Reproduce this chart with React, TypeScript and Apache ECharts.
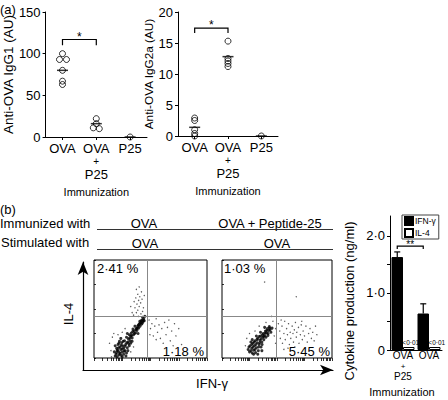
import React, { useEffect, useRef } from 'react';
import * as echarts from 'echarts';

// ---------- data ----------
const immunizationCats = ['OVA', 'OVA\n+\nP25', 'P25'];

const igg1Values = [[100, 93, 93, 80, 67, 63], [22, 16, 11, 10], [0]];
const igg1Offsets = [[0, -3, 4, 0, 0, 0], [0, 0, -3, 3], [0]];
const igg1Means = [80, 16, 0];
const igg1Sig = [0, 1, 117, 110];
const igg1Ticks = [0, 50, 100, 150];

const igg2aValues = [[2.9, 2.5, 1.0, 0.4, 0], [15.3, 12.5, 12.1, 11.7, 11.2], [0]];
const igg2aOffsets = [[0, 0, 0, 0, 0], [0, 0, 0, 0, 0], [0]];
const igg2aMeans = [1.4, 12.8, 0];
const igg2aSig = [0, 1, 17.4, 16.6];
const igg2aTicks = [0, 5, 10, 15, 20];

// flow cytometry dot plots (IFN-γ, IL-4 in log decades 0..4)
const flow1Core = [
  [0.72, 0.25], [0.78, 0.15], [0.8, 0.4], [0.85, 0.3], [0.88, 0.12], [0.9, 0.22], [0.92, 0.45], [0.95, 0.35],
  [0.97, 0.1], [1.0, 0.25], [1.02, 0.5], [1.05, 0.4], [1.05, 0.15], [1.1, 0.3], [1.12, 0.55], [1.15, 0.2],
  [1.18, 0.42], [1.2, 0.65], [0.85, 0.55], [0.9, 0.68], [0.98, 0.62], [1.08, 0.7], [1.15, 0.85], [0.75, 0.5],
  [1.25, 0.5], [1.22, 0.78], [1.28, 0.7], [0.95, 0.8], [1.0, 0.05], [0.82, 0.05],
  [1.3, 0.9], [1.35, 0.82], [1.32, 1.02], [1.4, 0.95], [1.42, 1.1], [1.47, 1.02], [1.5, 1.2], [1.52, 1.12],
  [1.55, 1.3], [1.58, 1.22], [1.6, 1.38], [1.63, 1.3], [1.66, 1.45], [1.68, 1.38], [1.7, 1.55], [1.73, 1.48],
  [1.76, 1.6], [1.78, 1.52], [1.38, 1.18], [1.45, 1.3], [1.25, 0.95], [1.62, 1.5], [1.72, 1.66], [1.8, 1.7],
  [1.56, 1.0], [1.35, 0.68],
  [0.75, 0.08], [0.8, 0.22], [0.87, 0.42], [0.93, 0.18], [0.96, 0.52], [1.0, 0.38], [1.03, 0.68], [1.07, 0.28],
  [1.1, 0.48], [1.13, 0.08], [1.16, 0.62], [1.2, 0.3], [1.23, 0.58], [0.88, 0.6], [0.82, 0.32], [1.27, 0.82],
  [1.33, 0.92], [1.37, 1.08], [1.43, 1.0], [1.48, 1.15], [1.53, 1.22], [1.57, 1.35], [1.62, 1.42], [1.67, 1.52],
  [1.71, 1.42], [1.75, 1.53], [1.3, 0.6], [1.18, 1.0],
];
const flow1Sparse = [
  [1.4, 1.75], [1.5, 1.85], [1.55, 1.95], [1.45, 2.05], [1.6, 2.1], [1.52, 2.2], [1.65, 2.25], [1.58, 2.35],
  [1.48, 2.45], [1.62, 2.5], [1.7, 2.4], [1.55, 2.6], [1.68, 2.7], [1.5, 2.8], [1.6, 2.9], [1.75, 2.05],
  [1.42, 2.3], [1.72, 1.9], [1.35, 1.85], [1.78, 2.55], [1.3, 2.1], [1.66, 1.8], [1.57, 1.7],
  [1.95, 1.55], [2.0, 1.2], [2.05, 1.4], [2.1, 0.9], [2.15, 1.3], [2.2, 1.6], [2.25, 1.05], [2.3, 1.35],
  [2.35, 0.8], [2.4, 1.2], [2.5, 1.45], [2.55, 0.95], [2.6, 1.25], [2.7, 0.7], [2.75, 1.1], [2.85, 1.4],
  [2.9, 0.9], [3.0, 1.2], [2.45, 0.6], [2.2, 0.75], [3.1, 0.55], [2.65, 1.55], [1.98, 0.95], [2.8, 0.5],
  [0.6, 0.3], [0.55, 0.6], [0.65, 0.85], [0.7, 1.0], [1.0, 1.05], [1.1, 1.2], [0.62, 0.05], [1.3, 0.25],
  [1.4, 0.45], [0.85, 0.95],
];
const flow1Gate = [1.87, 1.69];

const flow2Core = [
  [0.95, 0.35], [1.0, 0.25], [1.02, 0.5], [1.08, 0.4], [1.1, 0.2], [1.12, 0.6], [1.15, 0.32], [1.18, 0.5],
  [1.2, 0.7], [1.22, 0.22], [1.25, 0.42], [1.28, 0.62], [1.3, 0.8], [1.32, 0.3], [1.35, 0.55], [1.38, 0.72],
  [1.4, 0.9], [1.42, 0.45], [1.45, 0.65], [1.48, 0.85], [1.5, 1.0], [1.52, 0.75], [1.55, 0.92], [1.58, 1.1],
  [1.6, 0.85], [1.62, 1.02], [1.65, 1.2], [1.68, 1.0], [1.7, 1.12], [1.72, 1.28], [1.75, 1.15], [1.78, 1.05],
  [1.1, 0.75], [1.05, 0.65], [1.25, 0.9], [1.4, 1.05], [1.55, 1.25], [1.3, 0.15], [1.45, 0.3], [1.82, 1.22],
  [0.98, 0.45], [1.05, 0.3], [1.08, 0.55], [1.13, 0.45], [1.17, 0.65], [1.2, 0.35], [1.23, 0.55], [1.27, 0.75],
  [1.33, 0.45], [1.37, 0.62], [1.42, 0.78], [1.47, 0.95], [1.52, 0.88], [1.57, 1.02], [1.63, 1.12], [1.67, 0.92],
  [1.73, 1.22], [1.15, 0.15], [1.35, 0.88], [1.46, 0.55],
];
const flow2Sparse = [
  [2.05, 1.4], [2.1, 1.1], [2.12, 0.8], [2.18, 1.3], [2.2, 0.6], [2.25, 1.0], [2.28, 1.5], [2.3, 0.75],
  [2.35, 1.2], [2.38, 0.95], [2.42, 1.4], [2.45, 0.55], [2.48, 1.05], [2.5, 0.8], [2.55, 1.3], [2.58, 1.0],
  [2.6, 0.65], [2.63, 1.15], [2.67, 1.45], [2.7, 0.85], [2.72, 1.05], [2.78, 1.25], [2.8, 0.6], [2.85, 0.95],
  [2.88, 1.35], [2.92, 0.75], [2.95, 1.1], [3.0, 0.9], [3.05, 1.3], [3.1, 0.65], [3.15, 1.0], [3.2, 1.2],
  [3.25, 0.8], [3.3, 1.05], [3.35, 0.7], [3.45, 0.95], [2.4, 0.4], [2.15, 1.55], [2.65, 0.45], [2.9, 1.5],
  [3.4, 1.3], [2.25, 0.35],
  [0.85, 0.5], [0.9, 0.8], [1.0, 1.0], [1.2, 1.1], [1.35, 1.3], [1.6, 1.45], [1.9, 0.9], [1.95, 0.6],
  [1.85, 1.5], [1.8, 1.7], [1.55, 3.1], [2.7, 2.5], [1.95, 1.2],
];
const flow2Gate = [1.99, 1.71];

const flowLabels1 = ['2·41 %', '1·18 %'];
const flowLabels2 = ['1·03 %', '5·45 %'];

// cytokine bar chart
const barCats = ['OVA\n+\nP25', 'OVA'];
const ifnValues = [1.63, 0.64];
const ifnErrors = [0.09, 0.17];
const il4Values = [0.01, 0.01];
const il4Label = '<0·01';
const barSig = [0, 1, 1.82, 1.77];
const barTicks = [0, 0.5, 1, 1.5, 2];
const barLabelTicks = [0, 1, 2];

// ---------- helpers ----------
const FONT = "'Liberation Sans', Arial, Helvetica, sans-serif";
const BAR_W = 11.5;

const logTicks: number[] = [];
for (let d = 0; d < 4; d++) for (let m = 1; m <= 9; m++) logTicks.push(d + Math.log10(m));
logTicks.push(4);

function pointsData(values: number[][], offsets: number[][]) {
  const out: any[] = [];
  values.forEach((g, ci) => g.forEach((v, i) => out.push({ value: [ci, v], symbolOffset: [offsets[ci][i] || 0, 0] })));
  return out;
}

// multi-line category label with a smaller "+"
function stackedLabel(v: string) {
  return v.split('\n').map((s) => (s === '+' ? `{p|${s}}` : `{a|${s}}`)).join('\n');
}

function bracketSeries(xi: number, sig: number[], star: string, dx: number, fs: number) {
  return {
    type: 'custom',
    xAxisIndex: xi,
    yAxisIndex: xi,
    silent: true,
    data: [sig],
    renderItem: (_p: any, api: any) => {
      const a = api.coord([api.value(0), api.value(2)]);
      const b = api.coord([api.value(1), api.value(2)]);
      const a0 = api.coord([api.value(0), api.value(3)]);
      const b0 = api.coord([api.value(1), api.value(3)]);
      return {
        type: 'group',
        children: [
          {
            type: 'polyline',
            shape: { points: [[a0[0] + dx, a0[1]], [a[0] + dx, a[1]], [b[0] + dx, b[1]], [b0[0] + dx, b0[1]]] },
            style: { stroke: '#000', lineWidth: 1.2, fill: null },
          },
          {
            type: 'text',
            style: { text: star, x: (a[0] + b[0]) / 2 + dx, y: a[1] + 3, align: 'center', verticalAlign: 'bottom', fontSize: fs, fill: '#000', fontFamily: FONT },
          },
        ],
      };
    },
  };
}

const axisBlack = { lineStyle: { color: '#000', width: 1 } };

function topXAxis(gi: number) {
  return {
    type: 'category', gridIndex: gi, data: immunizationCats,
    axisLine: { show: true, ...axisBlack },
    axisTick: { show: true, alignWithLabel: true, length: 3, lineStyle: { color: '#000' } },
    axisLabel: {
      color: '#000', fontFamily: FONT, margin: 4, interval: 0,
      formatter: stackedLabel,
      rich: {
        a: { fontSize: 13, lineHeight: 14, fontFamily: FONT, color: '#000' },
        p: { fontSize: 10, lineHeight: 12, fontFamily: FONT, color: '#000' },
      },
    },
    name: 'Immunization', nameLocation: 'middle', nameGap: 49,
    nameTextStyle: { color: '#000', fontSize: 11, fontFamily: FONT },
    splitLine: { show: false },
  };
}

function topYAxis(gi: number, max: number, ticks: number[], name: string, nameSize: number, gap: number) {
  return {
    type: 'value', gridIndex: gi, min: 0, max,
    axisLine: { show: true, ...axisBlack },
    axisTick: { show: true, length: 3, lineStyle: { color: '#000' }, customValues: ticks },
    axisLabel: { color: '#000', fontSize: 13, fontFamily: FONT, margin: 5, customValues: ticks },
    splitLine: { show: false },
    name, nameLocation: 'middle', nameGap: gap,
    nameTextStyle: { color: '#000', fontSize: nameSize, fontFamily: FONT },
  };
}

function flowXAxis(gi: number) {
  return {
    type: 'value', gridIndex: gi, min: 0, max: 4,
    axisLine: { show: false },
    axisTick: { show: true, length: 3, lineStyle: { color: '#000', width: 0.8 }, customValues: logTicks },
    axisLabel: { show: false },
    splitLine: { show: false },
  };
}
function flowYAxis(gi: number) {
  return {
    type: 'value', gridIndex: gi, min: 0, max: 4,
    axisLine: { show: false },
    axisTick: { show: true, inside: true, length: 2, lineStyle: { color: '#000', width: 0.8 }, customValues: [0, 1, 2, 3, 4] },
    axisLabel: { show: false },
    splitLine: { show: false },
  };
}

function flowSeries(gi: number, core: number[][], sparse: number[][], gate: number[]) {
  return [
    {
      type: 'scatter', xAxisIndex: gi, yAxisIndex: gi, data: sparse, symbolSize: 1.4, silent: true,
      itemStyle: { color: '#333' },
      markLine: {
        silent: true, symbol: 'none', label: { show: false },
        lineStyle: { color: '#888', width: 1, type: 'solid' },
        data: [{ xAxis: gate[0] }, { yAxis: gate[1] }],
      },
    },
    {
      type: 'scatter', xAxisIndex: gi, yAxisIndex: gi, data: core, symbolSize: 3, silent: true,
      itemStyle: { color: '#000' },
    },
  ];
}

const option: any = {
  animation: false,
  textStyle: { fontFamily: FONT, color: '#000' },
  legend: {
    data: ['IFN-γ', 'IL-4'], orient: 'vertical', left: 402, top: 215,
    itemWidth: 8, itemHeight: 8, itemGap: 2, icon: 'rect',
    textStyle: { fontSize: 8.5, color: '#000', fontFamily: FONT, padding: [0, 0, 0, -3] },
    borderColor: '#444', borderWidth: 1, padding: [1, 3, 1, 2], selectedMode: false,
  },
  grid: [
    { left: 45, top: 12, width: 102, height: 125 },
    { left: 178, top: 12, width: 100, height: 124 },
    { left: 94, top: 260, width: 113, height: 98, show: true, borderColor: '#000', borderWidth: 1, backgroundColor: 'transparent' },
    { left: 222, top: 260, width: 110, height: 98, show: true, borderColor: '#000', borderWidth: 1, backgroundColor: 'transparent' },
    { left: 83, top: 262, width: 250, height: 108 },
    { left: 390, top: 216, width: 52, height: 134 },
  ],
  xAxis: [
    topXAxis(0),
    topXAxis(1),
    flowXAxis(2),
    flowXAxis(3),
    {
      type: 'value', gridIndex: 4, min: 0, max: 1,
      axisLine: { show: true, symbol: ['none', 'arrow'], symbolSize: [8, 13], lineStyle: { color: '#000', width: 1.2 } },
      axisTick: { show: false }, axisLabel: { show: false }, splitLine: { show: false },
    },
    {
      type: 'category', gridIndex: 5, data: barCats,
      axisLine: { show: true, ...axisBlack },
      axisTick: { show: false },
      axisLabel: {
        color: '#000', fontFamily: FONT, margin: 0, interval: 0,
        formatter: stackedLabel,
        rich: {
          a: { fontSize: 10, lineHeight: 11.5, fontFamily: FONT, color: '#000' },
          p: { fontSize: 8, lineHeight: 9.5, fontFamily: FONT, color: '#000' },
        },
      },
      splitLine: { show: false },
    },
  ],
  yAxis: [
    topYAxis(0, 150, igg1Ticks, 'Anti-OVA IgG1 (AU)', 13.5, 23),
    topYAxis(1, 20, igg2aTicks, 'Anti-OVA IgG2a (AU)', 11.8, 20),
    flowYAxis(2),
    flowYAxis(3),
    {
      type: 'value', gridIndex: 4, min: 0, max: 1,
      axisLine: { show: true, symbol: ['none', 'arrow'], symbolSize: [8, 13], lineStyle: { color: '#000', width: 1.2 } },
      axisTick: { show: false }, axisLabel: { show: false }, splitLine: { show: false },
    },
    {
      type: 'value', gridIndex: 5, min: 0, max: 2.35,
      axisLine: { show: true, ...axisBlack },
      axisTick: { show: true, length: 3, lineStyle: { color: '#000' }, customValues: barTicks },
      axisLabel: {
        color: '#000', fontSize: 13, fontFamily: FONT, margin: 5, customValues: barLabelTicks,
        formatter: (v: number) => (v === 0 ? '0' : v.toFixed(1).replace('.', '·')),
      },
      splitLine: { show: false },
    },
  ],
  series: [
    // panel a1
    {
      type: 'scatter', xAxisIndex: 0, yAxisIndex: 0, data: pointsData(igg1Values, igg1Offsets), symbol: 'circle', symbolSize: 6, silent: true,
      itemStyle: { color: 'rgba(0,0,0,0)', borderColor: '#000', borderWidth: 1 },
    },
    {
      type: 'scatter', xAxisIndex: 0, yAxisIndex: 0, data: igg1Means.map((m, i) => [i, m]), symbol: 'rect', symbolSize: [11, 1.5], silent: true,
      itemStyle: { color: '#000' },
    },
    bracketSeries(0, igg1Sig, '*', 0, 12),
    // panel a2
    {
      type: 'scatter', xAxisIndex: 1, yAxisIndex: 1, data: pointsData(igg2aValues, igg2aOffsets), symbol: 'circle', symbolSize: 6, silent: true,
      itemStyle: { color: 'rgba(0,0,0,0)', borderColor: '#000', borderWidth: 1 },
    },
    {
      type: 'scatter', xAxisIndex: 1, yAxisIndex: 1, data: igg2aMeans.map((m, i) => [i, m]), symbol: 'rect', symbolSize: [11, 1.5], silent: true,
      itemStyle: { color: '#000' },
    },
    bracketSeries(1, igg2aSig, '*', 0, 12),
    // flow plots
    ...flowSeries(2, flow1Core, flow1Sparse, flow1Gate),
    ...flowSeries(3, flow2Core, flow2Sparse, flow2Gate),
    // bars
    {
      name: 'IFN-γ', type: 'bar', xAxisIndex: 5, yAxisIndex: 5, data: ifnValues, barWidth: BAR_W, barGap: '0%',
      itemStyle: { color: '#000', borderColor: '#000', borderWidth: 1 }, silent: true,
    },
    {
      name: 'IL-4', type: 'bar', xAxisIndex: 5, yAxisIndex: 5, data: il4Values, barWidth: BAR_W, barMinHeight: 3,
      itemStyle: { color: '#fff', borderColor: '#000', borderWidth: 1 }, silent: true,
      label: { show: true, position: 'top', formatter: il4Label, fontSize: 6.5, color: '#000', distance: 1, fontFamily: FONT, offset: [2, 0] },
    },
    {
      type: 'custom', xAxisIndex: 5, yAxisIndex: 5, silent: true,
      data: ifnValues.map((v, i) => [i, v, ifnErrors[i]]),
      renderItem: (_p: any, api: any) => {
        const c = api.value(0);
        const base = api.coord([c, api.value(1)]);
        const top = api.coord([c, api.value(1) + api.value(2)]);
        const x = base[0] - BAR_W / 2;
        return {
          type: 'group',
          children: [
            { type: 'line', shape: { x1: x, y1: base[1], x2: x, y2: top[1] }, style: { stroke: '#000', lineWidth: 1.2 } },
            { type: 'line', shape: { x1: x - 3, y1: top[1], x2: x + 3, y2: top[1] }, style: { stroke: '#000', lineWidth: 1.2 } },
          ],
        };
      },
    },
    bracketSeries(5, barSig, '**', -BAR_W / 2, 10),
  ],
  graphic: [
    { type: 'text', x: 0, y: 9, style: { text: '(a)', fontSize: 13, fill: '#000', fontFamily: FONT, verticalAlign: 'middle' } },
    { type: 'text', x: 0, y: 209, style: { text: '(b)', fontSize: 13, fill: '#000', fontFamily: FONT, verticalAlign: 'middle' } },
    { type: 'text', x: 0, y: 223, style: { text: 'Immunized with', fontSize: 13, fill: '#000', fontFamily: FONT, verticalAlign: 'middle' } },
    { type: 'text', x: 1, y: 242, style: { text: 'Stimulated with', fontSize: 13, fill: '#000', fontFamily: FONT, verticalAlign: 'middle' } },
    { type: 'text', x: 144, y: 223, style: { text: 'OVA', fontSize: 13, fill: '#000', fontFamily: FONT, align: 'center', verticalAlign: 'middle' } },
    { type: 'text', x: 270, y: 223, style: { text: 'OVA + Peptide-25', fontSize: 13, fill: '#000', fontFamily: FONT, align: 'center', verticalAlign: 'middle' } },
    { type: 'text', x: 145, y: 243, style: { text: 'OVA', fontSize: 13, fill: '#000', fontFamily: FONT, align: 'center', verticalAlign: 'middle' } },
    { type: 'text', x: 277, y: 243, style: { text: 'OVA', fontSize: 13, fill: '#000', fontFamily: FONT, align: 'center', verticalAlign: 'middle' } },
    { type: 'line', shape: { x1: 97, y1: 229.5, x2: 333, y2: 229.5 }, style: { stroke: '#333', lineWidth: 1 } },
    { type: 'line', shape: { x1: 97, y1: 249.5, x2: 333, y2: 249.5 }, style: { stroke: '#333', lineWidth: 1 } },
    { type: 'text', x: 97, y: 268, style: { text: flowLabels1[0], fontSize: 13, fill: '#000', fontFamily: FONT, verticalAlign: 'middle' } },
    { type: 'text', x: 204, y: 351, style: { text: flowLabels1[1], fontSize: 13, fill: '#000', fontFamily: FONT, align: 'right', verticalAlign: 'middle' } },
    { type: 'text', x: 224, y: 268, style: { text: flowLabels2[0], fontSize: 13, fill: '#000', fontFamily: FONT, verticalAlign: 'middle' } },
    { type: 'text', x: 330, y: 351, style: { text: flowLabels2[1], fontSize: 13, fill: '#000', fontFamily: FONT, align: 'right', verticalAlign: 'middle' } },
    { type: 'text', x: 212, y: 383, style: { text: 'IFN-γ', fontSize: 13, fill: '#000', fontFamily: FONT, align: 'center', verticalAlign: 'middle' } },
    { type: 'text', x: 68, y: 314, rotation: Math.PI / 2, style: { text: 'IL-4', fontSize: 13, fill: '#000', fontFamily: FONT, align: 'center', verticalAlign: 'middle' } },
    { type: 'text', x: 349, y: 301, rotation: Math.PI / 2, style: { text: 'Cytokine production (ng/ml)', fontSize: 13, fill: '#000', fontFamily: FONT, align: 'center', verticalAlign: 'middle' } },
    { type: 'text', x: 402, y: 392, style: { text: 'Immunization', fontSize: 11, fill: '#000', fontFamily: FONT, align: 'center', verticalAlign: 'middle' } },
  ],
};

export default function App() {
  const ref = useRef<HTMLDivElement>(null);
  useEffect(() => {
    document.body.style.margin = '0';
    const chart = echarts.init(ref.current!, null, { renderer: 'svg' });
    chart.setOption(option);
    return () => chart.dispose();
  }, []);
  return <div ref={ref} style={{ width: 448, height: 400, position: 'absolute', left: 0, top: 0, background: '#fff' }} />;
}
